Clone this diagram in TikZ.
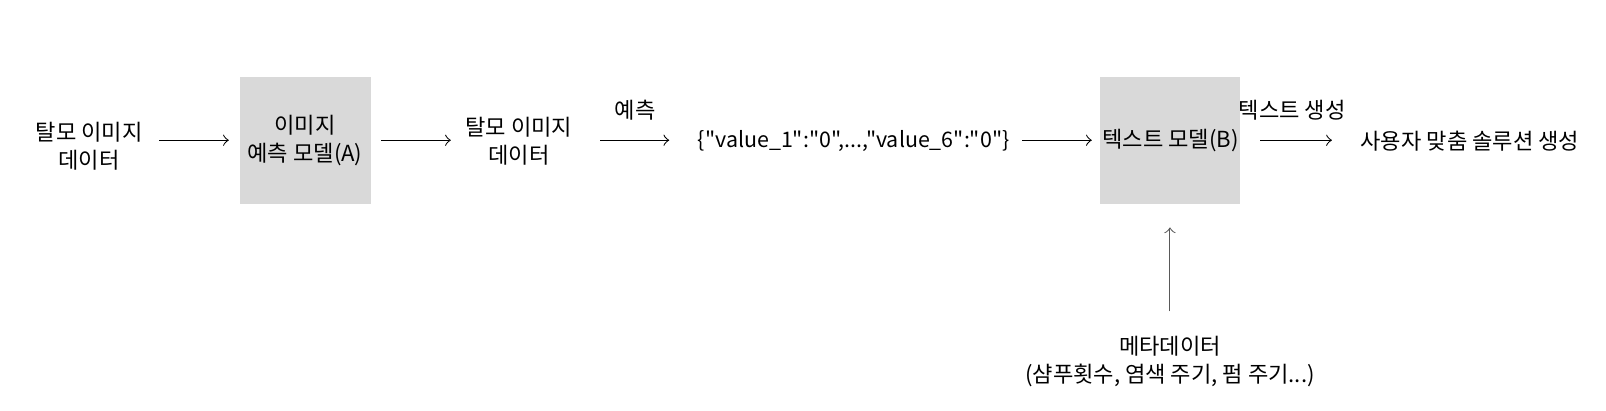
\documentclass[tikz,border=0pt]{standalone}
\usepackage{fontspec}
\setmainfont{Noto Sans CJK KR}[Ligatures=TeXOff]
\definecolor{boxgray}{HTML}{D9D9D9}
\begin{document}
\begin{tikzpicture}[x=0.01024cm,y=-0.01024cm,font=\fontsize{6.3pt}{7.9pt}\selectfont,
  model/.style={fill=boxgray,minimum width=1.31cm,minimum height=1.27cm,inner sep=0pt,align=center},
  txt/.style={align=center,inner sep=0pt},
  arr/.style={->,line width=0.3pt}]
\useasboundingbox (0,0) rectangle (1569,401.5);

% nodes along the row
\node[txt] (img) at (87,143) {탈모 이미지\\데이터};
\node[model] (A) at (298,137) {이미지\\예측 모델(A)};
\node[txt] (imgB) at (507,138) {탈모 이미지\\데이터};
\node[txt,font=\fontsize{6.1pt}{7.9pt}\selectfont] (json) at (834,138) {\{"value\_1":"0",...,"value\_6":"0"\}};
\node[model,minimum width=1.40cm] (B) at (1143.5,137) {텍스트 모델(B)};
\node[txt] (out) at (1436,138) {사용자 맞춤 솔루션 생성};
\node[txt] (meta) at (1143,353) {메타데이터\\(샴푸횟수, 염색 주기, 펌 주기...)};

% arrows
\draw[arr,shorten <=0.16cm,shorten >=0.1cm] (img.east |- A) -- (A.west);
\draw[arr,shorten <=0.1cm,shorten >=0.14cm] (A.east) -- (imgB.west |- A);
\draw[arr,shorten <=0.27cm,shorten >=0.28cm] (imgB.east |- A) -- (json.west |- A)
  node[midway,above=0.19cm,inner sep=0pt] {예측};
\draw[arr,shorten <=0.12cm,shorten >=0.08cm] (json.east |- A) -- (B.west);
\draw[arr,shorten <=0.19cm,shorten >=0.28cm] (B.east) -- (out.west |- B)
  node[pos=0.43,above=0.19cm,inner sep=0pt] {텍스트 생성};
\draw[arr,black!65,shorten <=0.24cm,shorten >=0.23cm] (meta.north) -- (meta.north |- B.south);

\end{tikzpicture}
\end{document}
